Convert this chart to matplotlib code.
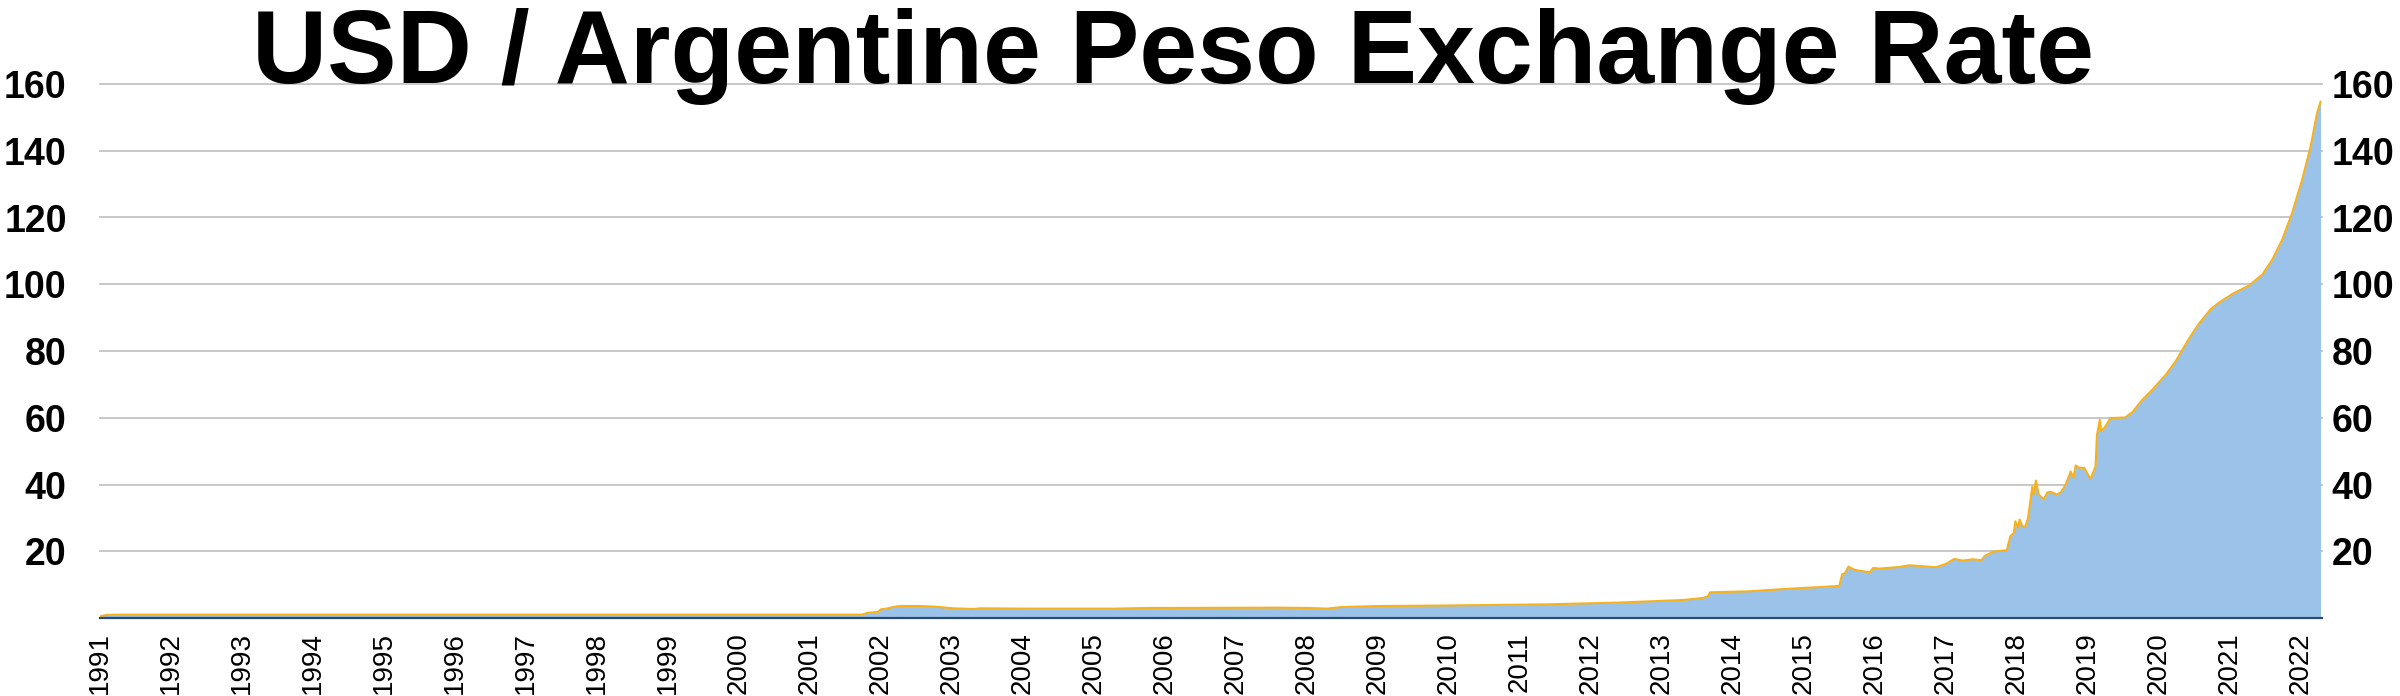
import matplotlib

matplotlib.use("Agg")
import matplotlib.pyplot as plt

# Values. Positions are in "chart years": the
# tick labelled 1991 sits at 1991.0, the one labelled 2022 at 2022.0.
years = [
    1991.0, 1991.1, 1991.3, 2001.73, 2001.82, 2001.96, 2002.0, 2002.08,
    2002.2, 2002.27, 2002.55, 2002.76, 2003.02, 2003.3, 2003.4, 2004.06,
    2005.27, 2005.75, 2007.62, 2008.04, 2008.28, 2008.5, 2009.07, 2010.0,
    2011.4, 2012.37, 2013.3, 2013.58, 2013.65, 2013.68, 2014.24, 2014.66,
    2015.5, 2015.54, 2015.58, 2015.63, 2015.72, 2015.93, 2015.98, 2016.07,
    2016.35, 2016.49, 2016.63, 2016.86, 2017.0, 2017.12, 2017.24, 2017.38,
    2017.5, 2017.55, 2017.67, 2017.86, 2017.91, 2017.96, 2017.98, 2018.02,
    2018.04, 2018.08, 2018.12, 2018.16, 2018.2, 2018.22, 2018.24, 2018.27,
    2018.31, 2018.38, 2018.43, 2018.48, 2018.56, 2018.62, 2018.69, 2018.76,
    2018.8, 2018.83, 2018.88, 2018.95, 2019.04, 2019.11, 2019.13, 2019.17,
    2019.19, 2019.25, 2019.32, 2019.53, 2019.63, 2019.77, 2019.91, 2020.1,
    2020.24, 2020.42, 2020.56, 2020.73, 2020.85, 2021.03, 2021.27, 2021.46,
    2021.6, 2021.74, 2021.88, 2022.02, 2022.14, 2022.23, 2022.28,
]
rate = [
    0.5, 0.95, 1.0, 1.0, 1.6, 1.8, 2.6, 2.8,
    3.4, 3.6, 3.6, 3.4, 2.9, 2.7, 2.9, 2.8,
    2.8, 3.0, 3.1, 3.0, 2.8, 3.3, 3.6, 3.75,
    4.1, 4.6, 5.4, 6.0, 6.5, 7.7, 8.0, 8.6,
    9.6, 13.1, 13.4, 15.4, 14.4, 13.7, 15.0, 14.8,
    15.3, 15.8, 15.6, 15.2, 16.2, 17.7, 17.2, 17.6,
    17.3, 18.6, 19.9, 20.3, 24.5, 25.5, 29.0, 27.0,
    29.5, 27.5, 27.3, 30.0, 36.4, 39.4, 37.0, 41.2,
    37.0, 35.5, 37.6, 37.8, 37.0, 37.6, 40.0, 43.9,
    42.0, 45.7, 45.0, 45.0, 41.6, 45.4, 54.9, 59.4,
    55.9, 57.4, 59.9, 60.1, 61.7, 65.4, 68.4, 72.9,
    77.0, 83.5, 88.0, 92.5, 94.5, 97.0, 99.6, 102.9,
    107.4, 113.4, 121.4, 131.3, 141.3, 151.3, 154.7,
]
tick_years = list(range(1991, 2023))
y_ticks = [20, 40, 60, 80, 100, 120, 140, 160]

TITLE = "USD / Argentine Peso Exchange Rate"
FILL = "#9bc3ea"
LINE = "#f7b11a"
BASE = "#2c4a6b"
GRID = "#c4c4c4"

plt.rcParams["font.family"] = ["Liberation Sans", "DejaVu Sans"]

W, H = 2400, 696
figure = plt.figure(figsize=(W / 100, H / 100), dpi=100)
# plot area in pixels: x 100..2322, y (top) 84..618
axes = figure.add_axes([100 / W, 1 - 618 / H, 2222 / W, 534 / H])

axes.fill_between(years, rate, 0, color=FILL, linewidth=0, zorder=2)
axes.plot(years, rate, color=LINE, linewidth=1.5, zorder=3)

axes.set_xlim(1991.0, 2022.3)
axes.set_ylim(0, 160)
for value in y_ticks:
    axes.axhline(value, color=GRID, linewidth=1.3, zorder=1, clip_on=False)

for side in ("top", "left", "right"):
    axes.spines[side].set_visible(False)
axes.spines["bottom"].set_color(BASE)
axes.spines["bottom"].set_linewidth(1.6)
axes.spines["bottom"].set_zorder(4)

# tick pads are in points (px * 0.72 at 100 dpi)
axes.set_xticks(tick_years)
axes.set_xticklabels([str(y) for y in tick_years], rotation=90, fontsize=20)
axes.tick_params(axis="x", length=0, pad=10)

axes.set_yticks(y_ticks)
axes.set_yticklabels([str(v) for v in y_ticks], fontsize=27, fontweight="bold")
axes.tick_params(axis="y", length=0, pad=24)

# right-hand copy of the value scale, set closer to the plot edge
right_ax = axes.twinx()
right_ax.set_ylim(0, 160)
right_ax.set_yticks(y_ticks)
right_ax.set_yticklabels([str(v) for v in y_ticks], fontsize=27, fontweight="bold")
right_ax.tick_params(axis="y", length=0, pad=7)
for side in ("top", "left", "right", "bottom"):
    right_ax.spines[side].set_visible(False)

figure.text(1173 / W, 1 - 83 / H, TITLE, ha="center", va="baseline",
            fontsize=75, fontweight="bold")

figure.savefig("out.png", dpi=100)
plt.close(figure)
